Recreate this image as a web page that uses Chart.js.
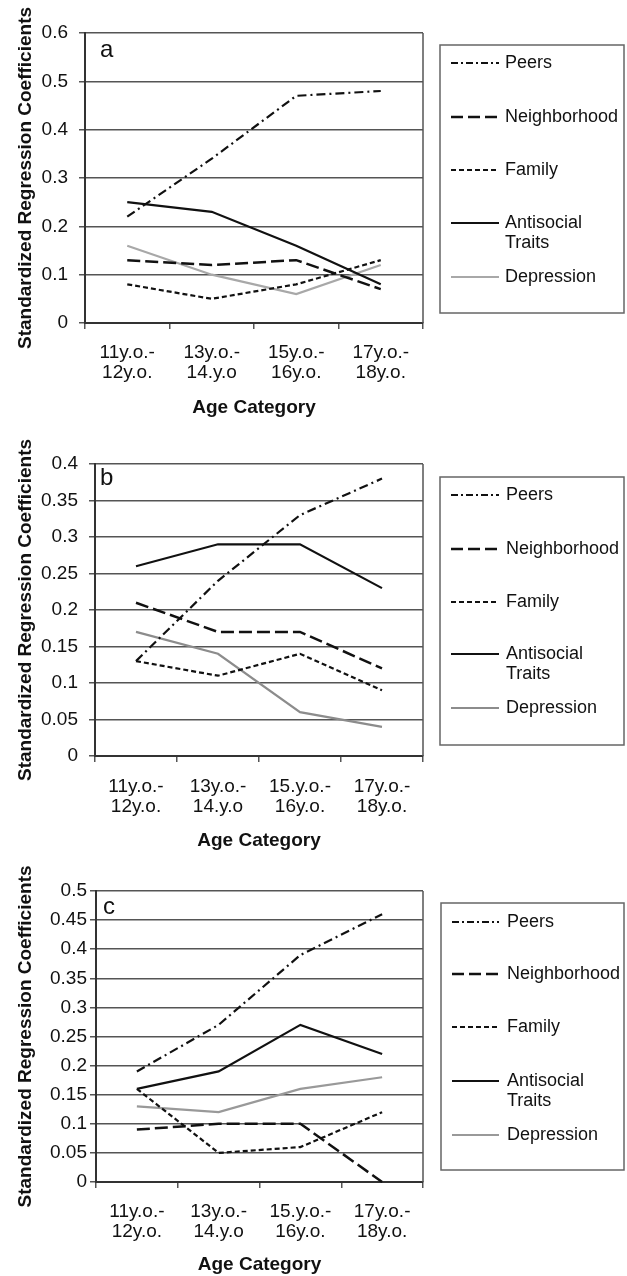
<!DOCTYPE html>
<html>
<head>
<meta charset="utf-8">
<script src="https://cdn.jsdelivr.net/npm/chart.js@4.4.1/dist/chart.umd.min.js"></script>
<style>
  body { margin: 0; background: #fff; width: 627px; height: 1276px; overflow: hidden; position: relative; }
  canvas { position: absolute; left: 0; }
</style>
</head>
<body>
<canvas id="chartA" width="627" height="420" style="top:0px"></canvas>
<canvas id="chartB" width="627" height="432" style="top:420px"></canvas>
<canvas id="chartC" width="627" height="424" style="top:852px"></canvas>
<script>
// categorias del eje x (dos lineas por etiqueta)
const categoriesA = [["11y.o.-", "12y.o."], ["13y.o.-", "14.y.o"], ["15y.o.-", "16y.o."], ["17y.o.-", "18y.o."]];
const categoriesBC = [["11y.o.-", "12y.o."], ["13y.o.-", "14.y.o"], ["15.y.o.-", "16y.o."], ["17y.o.-", "18y.o."]];
const seriesNames = ["Peers", "Neighborhood", "Family", "Antisocial Traits", "Depression"];

// panel a
const peersA = [0.22, 0.34, 0.47, 0.48];
const neighborhoodA = [0.13, 0.12, 0.13, 0.07];
const familyA = [0.08, 0.05, 0.08, 0.13];
const antisocialA = [0.25, 0.23, 0.16, 0.08];
const depressionA = [0.16, 0.10, 0.06, 0.12];

// panel b
const peersB = [0.13, 0.24, 0.33, 0.38];
const neighborhoodB = [0.21, 0.17, 0.17, 0.12];
const familyB = [0.13, 0.11, 0.14, 0.09];
const antisocialB = [0.26, 0.29, 0.29, 0.23];
const depressionB = [0.17, 0.14, 0.06, 0.04];

// panel c
const peersC = [0.19, 0.27, 0.39, 0.46];
const neighborhoodC = [0.09, 0.10, 0.10, 0.00];
const familyC = [0.16, 0.05, 0.06, 0.12];
const antisocialC = [0.16, 0.19, 0.27, 0.22];
const depressionC = [0.13, 0.12, 0.16, 0.18];

// limites del eje y
const yMaxA = 0.6, yStepA = 0.1;
const yMaxB = 0.4, yStepB = 0.05;
const yMaxC = 0.5, yStepC = 0.05;

const FONT = "'Liberation Sans', Arial, Helvetica, sans-serif";

// estilos de linea por serie
const lineStyles = [
  { color: "#111", dash: [9, 4, 2, 4], width: 2.2 },
  { color: "#111", dash: [13, 5], width: 2.5 },
  { color: "#111", dash: [5, 3], width: 2.2 },
  { color: "#111", dash: [], width: 2.2 },
  { color: "#a3a3a3", dash: [], width: 2.2 }
];

// caja de leyenda, letra del panel y borde derecho
const panelDeco = {
  id: "panelDeco",
  afterDraw(chart, args, opts) {
    const ctx = chart.ctx;
    const area = chart.chartArea;
    ctx.save();
    // borde derecho del area
    ctx.strokeStyle = "#555";
    ctx.lineWidth = 1.5;
    ctx.beginPath();
    ctx.moveTo(area.right, area.top);
    ctx.lineTo(area.right, area.bottom);
    ctx.stroke();

    // letra
    ctx.fillStyle = "#111";
    ctx.font = "24px " + FONT;
    ctx.textAlign = "left";
    ctx.textBaseline = "middle";
    ctx.fillText(opts.letter, opts.letterX, opts.letterY);

    // leyenda
    const b = opts.box;
    ctx.strokeStyle = "#666";
    ctx.lineWidth = 1.5;
    ctx.setLineDash([]);
    ctx.strokeRect(b[0], b[1], b[2], b[3]);
    ctx.font = "18px " + FONT;
    chart.data.datasets.forEach((ds, i) => {
      const y = opts.rows[i];
      ctx.strokeStyle = ds.borderColor;
      ctx.lineWidth = ds.borderWidth;
      ctx.setLineDash(ds.legendDash || ds.borderDash);
      ctx.beginPath();
      ctx.moveTo(opts.lineX[0], y);
      ctx.lineTo(opts.lineX[1], y);
      ctx.stroke();
      ctx.setLineDash([]);
      // texto con salto de linea simple
      const words = ds.label.split(" ");
      const lines = [];
      let cur = "";
      words.forEach(w => {
        const t = cur ? cur + " " + w : w;
        if (cur && ctx.measureText(t).width > opts.maxText) { lines.push(cur); cur = w; }
        else cur = t;
      });
      lines.push(cur);
      ctx.fillStyle = "#111";
      lines.forEach((l, k) => ctx.fillText(l, opts.textX, y + k * 20));
    });
    ctx.restore();
  }
};

function makePanel(id, labels, series, yMax, yStep, g) {
  const datasets = series.map((vals, i) => ({
    label: seriesNames[i],
    data: vals,
    borderColor: i === 4 ? g.depColor : lineStyles[i].color,
    borderWidth: lineStyles[i].width,
    borderDash: lineStyles[i].dash,
    legendDash: i === 0 ? [7, 3, 2, 3] : (i === 1 ? [12, 5] : null),
    pointRadius: 0,
    tension: 0,
    fill: false,
    clip: 6
  }));

  return new Chart(document.getElementById(id), {
    type: "line",
    data: { labels: labels, datasets: datasets },
    options: {
      responsive: false,
      animation: false,
      devicePixelRatio: 1,
      layout: { padding: { top: g.top, right: 627 - g.right, bottom: 0, left: 0 } },
      plugins: {
        legend: { display: false },
        tooltip: { enabled: false },
        panelDeco: {
          letter: g.letter, letterX: g.letterX, letterY: g.letterY,
          box: g.box, rows: g.rows, lineX: g.lineX, textX: g.textX, maxText: 116
        }
      },
      scales: {
        x: {
          type: "category",
          offset: true,
          grid: { offset: true, drawOnChartArea: false, drawTicks: true, tickLength: 6, color: "#555", lineWidth: 1.5 },
          border: { color: "#333", width: 2 },
          ticks: {
            color: "#111", autoSkip: false, maxRotation: 0, minRotation: 0,
            padding: g.xTickPad,
            font: { family: FONT, size: 19, lineHeight: 1.05 }
          },
          title: {
            display: true, text: "Age Category", color: "#111",
            font: { family: FONT, size: 19, weight: "bold" },
            padding: { top: 0, bottom: g.xTitlePad }
          },
          afterFit: s => { s.height = g.h - g.bottom; }
        },
        y: {
          min: 0,
          max: yMax,
          grid: { color: "#555", lineWidth: 1.5, tickLength: 6 },
          border: { color: "#333", width: 2 },
          ticks: {
            stepSize: yStep,
            color: "#111",
            padding: g.yTickPad,
            font: { family: FONT, size: 19 },
            callback: v => String(+v.toFixed(2))
          },
          title: {
            display: true, text: "Standardized Regression Coefficients", color: "#111",
            font: { family: FONT, size: 19, weight: "bold" },
            padding: { top: 14, bottom: 0 }
          },
          afterFit: s => { s.width = g.left; }
        }
      }
    },
    plugins: [panelDeco]
  });
}

makePanel("chartA", categoriesA, [peersA, neighborhoodA, familyA, antisocialA, depressionA], yMaxA, yStepA, {
  h: 420, top: 33, bottom: 323, left: 85, right: 423, xTickPad: 14, xTitlePad: 1, yTickPad: 11,
  letter: "a", letterX: 100, letterY: 50,
  box: [440, 45, 184, 268], rows: [63, 117, 170, 223, 277], lineX: [451, 499], textX: 505,
  depColor: "#a8a8a8"
});

makePanel("chartB", categoriesBC, [peersB, neighborhoodB, familyB, antisocialB, depressionB], yMaxB, yStepB, {
  h: 432, top: 44, bottom: 336, left: 95, right: 423, xTickPad: 15, xTitlePad: 0, yTickPad: 11,
  letter: "b", letterX: 100, letterY: 58,
  box: [440, 57, 184, 268], rows: [75, 129, 182, 234, 288], lineX: [451, 499], textX: 506,
  depColor: "#8c8c8c"
});

makePanel("chartC", categoriesBC, [peersC, neighborhoodC, familyC, antisocialC, depressionC], yMaxC, yStepC, {
  h: 424, top: 39, bottom: 330, left: 96, right: 423, xTickPad: 14, xTitlePad: 0, yTickPad: 3,
  letter: "c", letterX: 103, letterY: 55,
  box: [441, 51, 183, 267], rows: [70, 122, 175, 229, 283], lineX: [452, 499], textX: 507,
  depColor: "#999999"
});
</script>
</body>
</html>
